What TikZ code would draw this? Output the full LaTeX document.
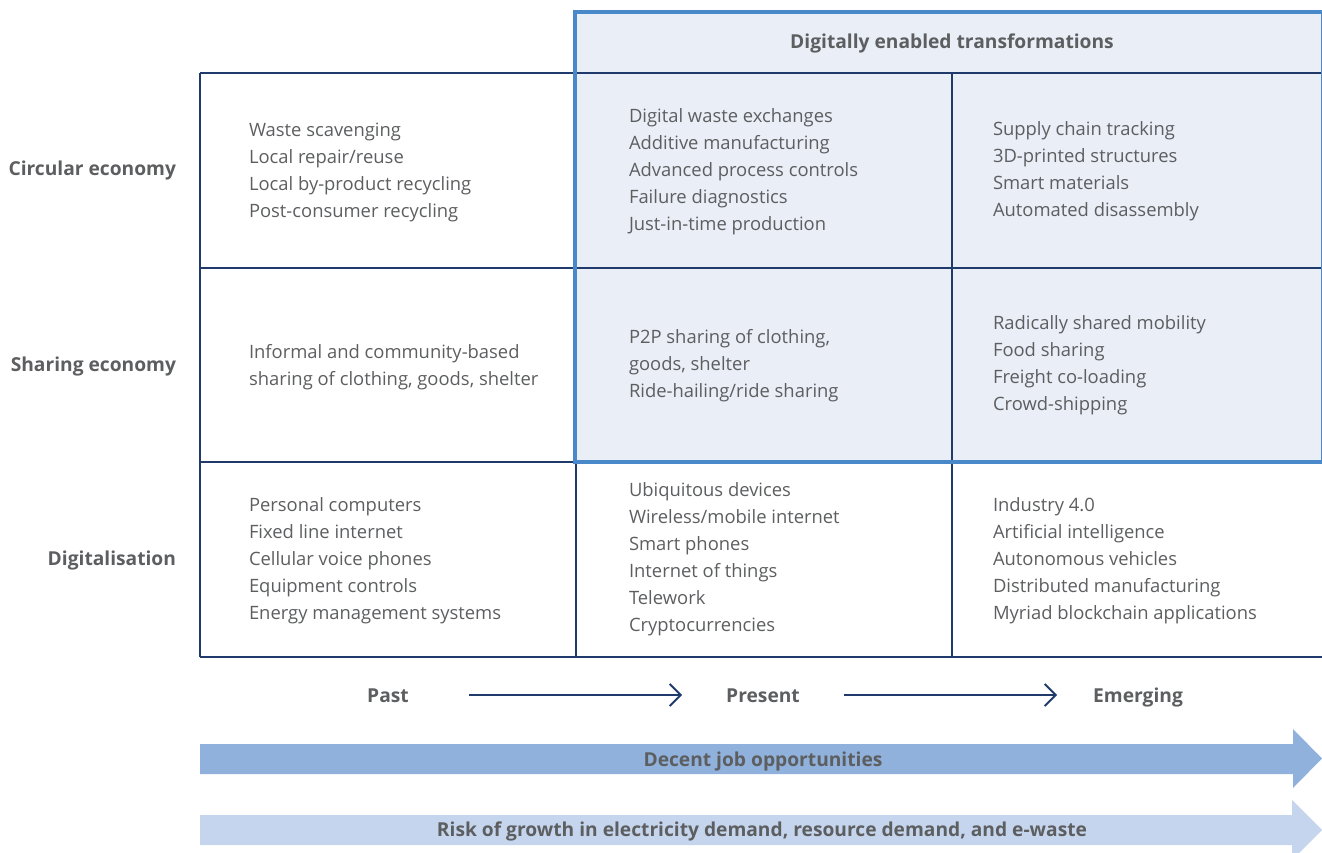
\documentclass[tikz,border=0pt]{standalone}
\usepackage{fontspec}
\setmainfont{Open Sans}
\usetikzlibrary{arrows.meta}
\definecolor{navy}{HTML}{1F3A6B}
\definecolor{frameblue}{HTML}{4A89C9}
\definecolor{pale}{HTML}{E9EEF7}
\definecolor{ink}{HTML}{5D5E60}
\definecolor{jobblue}{HTML}{8FB1DC}
\definecolor{riskblue}{HTML}{C5D5ED}
\begin{document}
\begin{tikzpicture}
[x=1pt, y=-1pt,
 nodes={text=ink, inner sep=0pt, outer sep=0pt, font=\fontsize{18.4}{27}\selectfont},
 cell/.style={anchor=west, align=left},
 boldtext/.style={text height=14pt, text depth=0pt, font=\fontsize{19.2}{27}\selectfont\bfseries},
 rowlabel/.style={boldtext, anchor=east},
 stage/.style={boldtext, minimum width=162pt},
 gridline/.style={navy, line width=1.3pt},
 >={Straight Barb[length=11pt, width=22pt]}]
\useasboundingbox (0,0) rectangle (1322,853);

% shaded block
\fill[pale] (575,11) rectangle (1326,462);

% grid
\draw[gridline] (200,73) -- (1322,73);
\draw[gridline] (200,268) -- (1322,268);
\draw[gridline] (200,462) -- (1322,462);
\draw[gridline] (200,657) -- (1322,657);
\draw[gridline] (200,73) -- (200,657);
\draw[gridline] (576,73) -- (576,657);
\draw[gridline] (952,73) -- (952,657);

\draw[frameblue, line width=4.5pt] (575,12) rectangle (1323.5,462);
\node (Header) at (952,42) [boldtext] {Digitally enabled transformations};

% rows
\node (Circular) at (176,169) [rowlabel] {Circular economy};
\node (Sharing) at (176,364) [rowlabel] {Sharing economy};
\node (Digital) at (176,558) [rowlabel] {Digitalisation};

\node (CEPast) at (249,172) [cell] {Waste scavenging\\Local repair/reuse\\Local by-product recycling\\Post-consumer recycling};
\node (CEPresent) at (629,171.5) [cell] {Digital waste exchanges\\Additive manufacturing\\Advanced process controls\\Failure diagnostics\\Just-in-time production};
\node (CEEmerging) at (993,171.5) [cell] {Supply chain tracking\\3D-printed structures\\Smart materials\\Automated disassembly};

\node (SEPast) at (249,367.5) [cell] {Informal and community-based\\sharing of clothing, goods, shelter};
\node (SEPresent) at (629,365.5) [cell] {P2P sharing of clothing,\\goods, shelter\\Ride-hailing/ride sharing};
\node (SEEmerging) at (993,365.5) [cell] {Radically shared mobility\\Food sharing\\Freight co-loading\\Crowd-shipping};

\node (DPast) at (249,561) [cell] {Personal computers\\Fixed line internet\\Cellular voice phones\\Equipment controls\\Energy management systems};
\node (DPresent) at (629,559.5) [cell] {Ubiquitous devices\\Wireless/mobile internet\\Smart phones\\Internet of things\\Telework\\Cryptocurrencies};
\node (DEmerging) at (993,560.5) [cell] {Industry 4.0\\Artificial intelligence\\Autonomous vehicles\\Distributed manufacturing\\Myriad blockchain applications};

% time line
\node (Past) at (388,695) [stage] {Past};
\node (Present) at (763,695) [stage] {Present};
\node (Emerging) at (1138,695) [stage] {Emerging};
\draw[->, navy, line width=1.8pt] (Past) -- (Present);
\draw[->, navy, line width=1.8pt] (Present) -- (Emerging);

% bands
\fill[jobblue] (200,744) -- (1293,744) -- (1293,729) -- (1322,758.5) -- (1293,788) -- (1293,774) -- (200,774) -- cycle;
\node (Jobs) at (763,759) [boldtext] {Decent job opportunities};
\fill[riskblue] (200,815) -- (1292,815) -- (1292,800) -- (1322,830) -- (1292,860) -- (1292,845) -- (200,845) -- cycle;
\node (Risk) at (762,829) [boldtext] {Risk of growth in electricity demand, resource demand, and e-waste};
\end{tikzpicture}
\end{document}
